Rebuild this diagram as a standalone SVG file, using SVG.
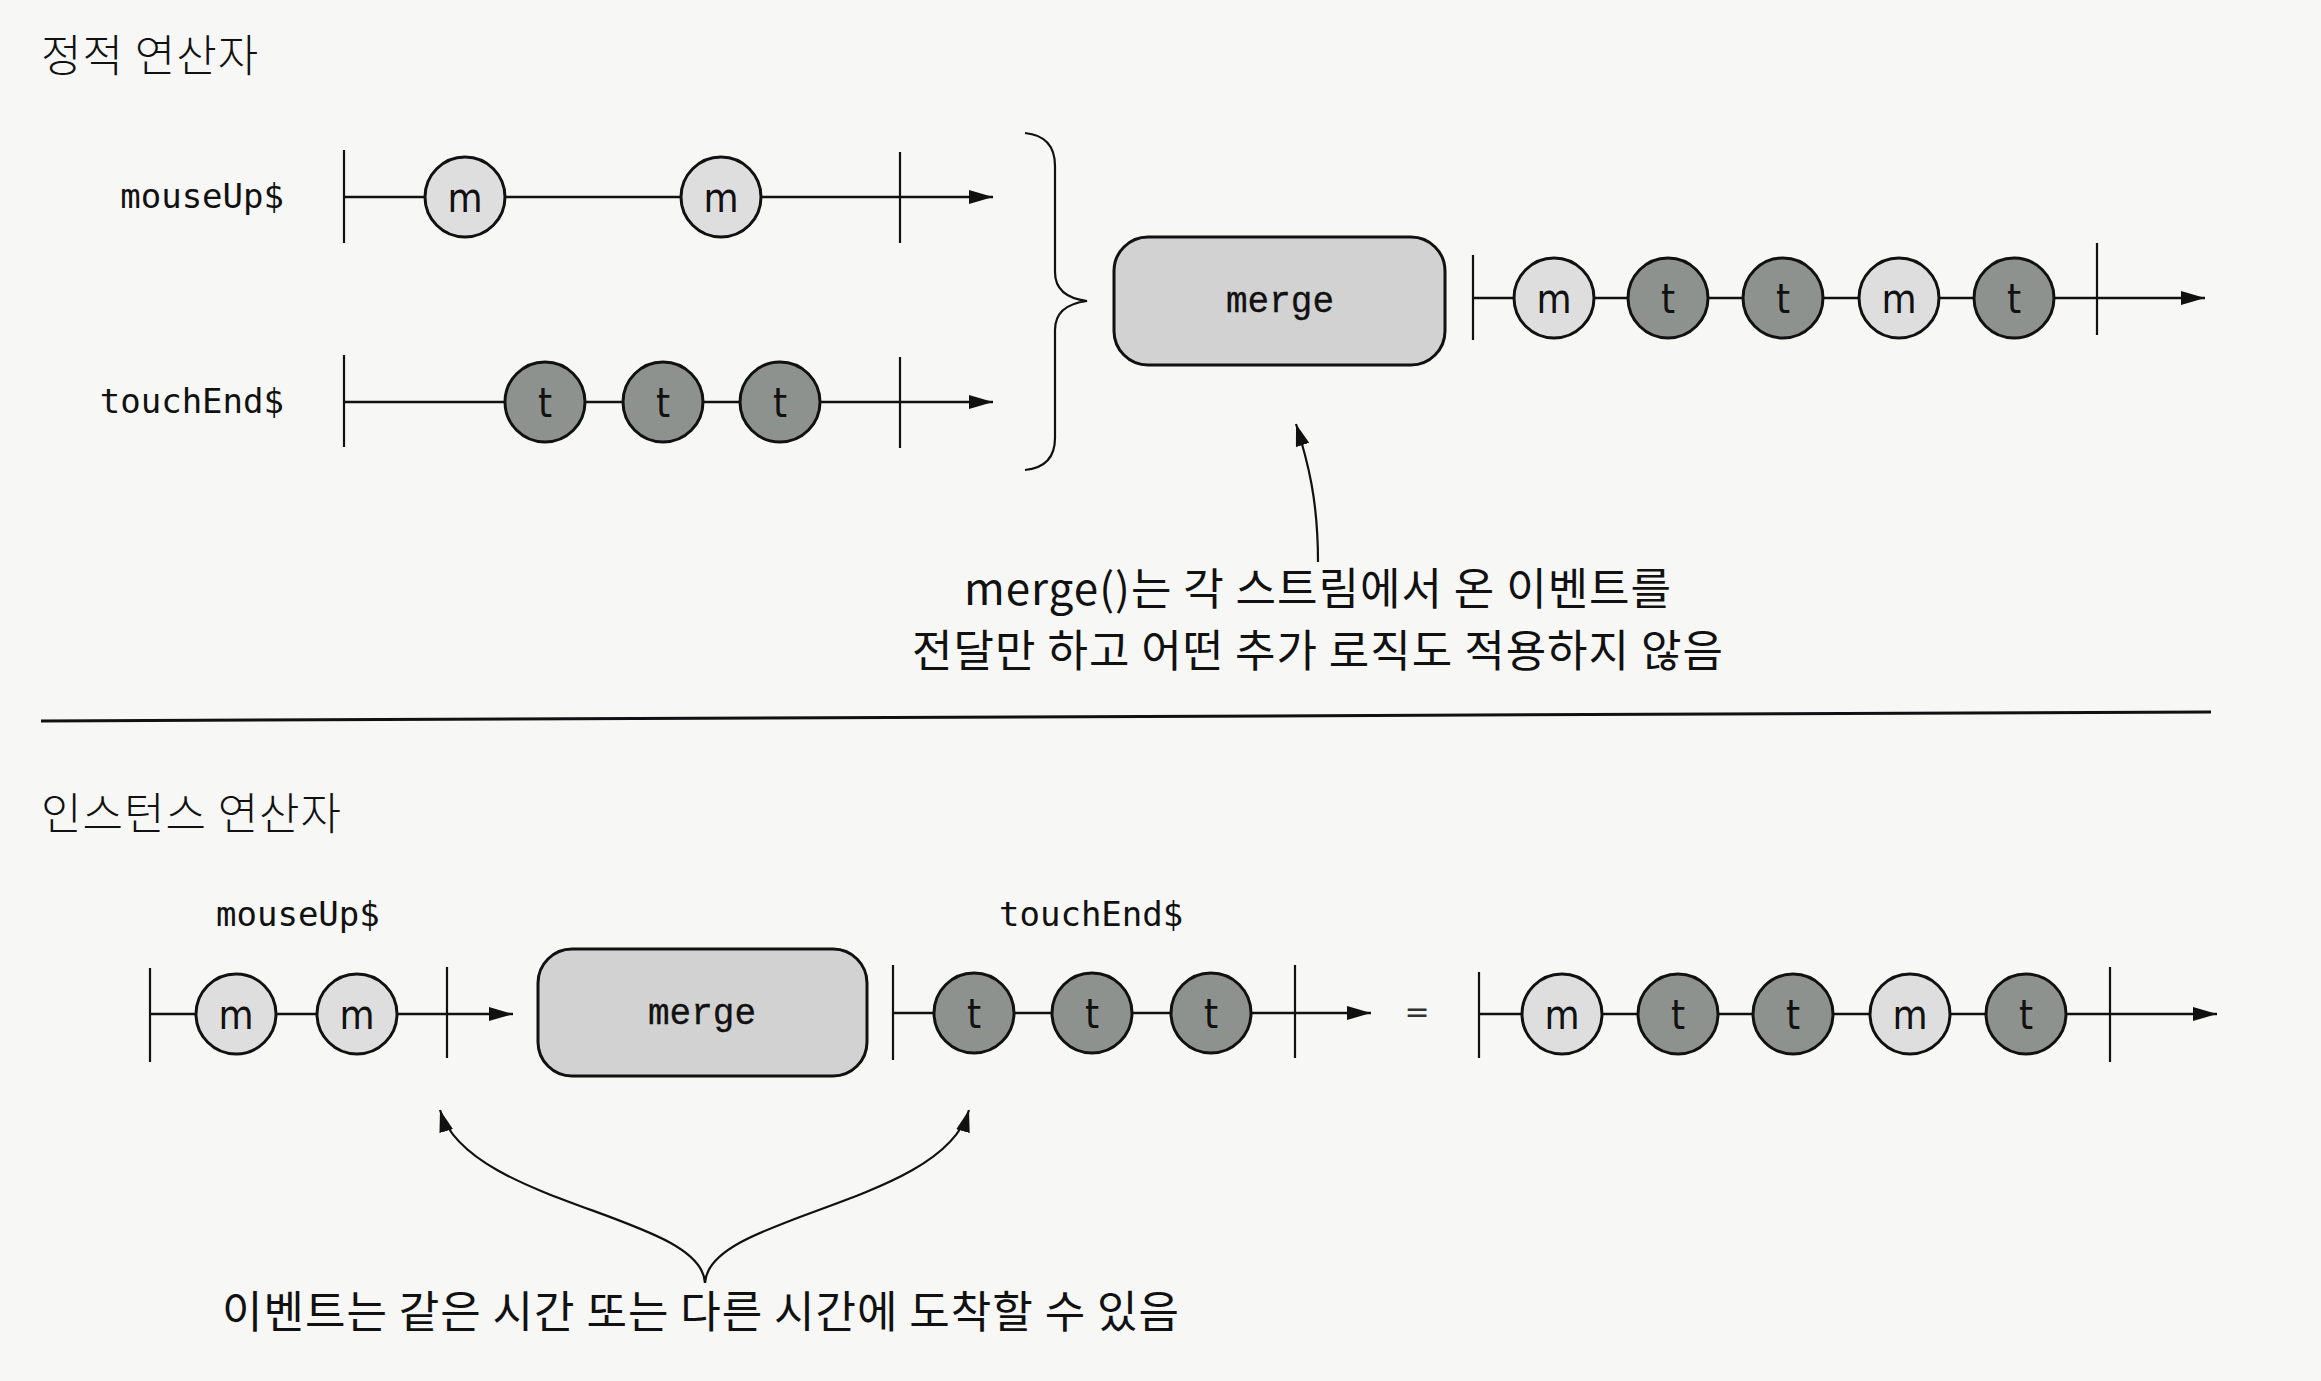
<svg xmlns="http://www.w3.org/2000/svg" width="2321" height="1381" viewBox="0 0 2321 1381">
<defs>
<style>
.ko{font-family:"Noto Sans CJK KR","Noto Sans CJK SC",sans-serif;fill:#111}
.title{font-size:44px;font-weight:300;letter-spacing:1px}
.note{font-size:44px;letter-spacing:1px}
.lbl{font-family:"DejaVu Sans Mono","Liberation Mono",monospace;font-size:34px;fill:#111}
.mono{font-family:"Liberation Mono","Courier New",monospace;font-size:36px;fill:#111;text-anchor:middle;stroke:#111;stroke-width:0.35}
.ev{font-family:"DejaVu Sans Condensed","DejaVu Sans",sans-serif;font-size:40px;fill:#111;text-anchor:middle}
.tl{stroke:#111;stroke-width:2.5;fill:none}
.tick{stroke:#111;stroke-width:2.2}
.cl{fill:#dedede;stroke:#111;stroke-width:3}
.cd{fill:#8d928e;stroke:#111;stroke-width:3}
.box{fill:#d2d2d2;stroke:#111;stroke-width:3}
.call{stroke:#111;stroke-width:2.2;fill:none}
</style>
<marker id="ah" viewBox="0 0 24 14" refX="24" refY="7" markerWidth="24" markerHeight="14" markerUnits="userSpaceOnUse" orient="auto">
<path d="M0,0 L24,7 L0,14 z" fill="#111"/>
</marker>
<marker id="ah2" viewBox="0 0 22 14" refX="22" refY="7" markerWidth="22" markerHeight="14" markerUnits="userSpaceOnUse" orient="auto">
<path d="M0,0 L22,7 L0,14 z" fill="#111"/>
</marker>
</defs>
<rect x="0" y="0" width="2321" height="1381" fill="#f7f7f5"/>

<text class="ko title" x="41" y="72">정적 연산자</text>
<text class="ko title" x="41" y="830">인스턴스 연산자</text>

<g id="connectors">
<!-- top mouseUp$ -->
<line class="tl" x1="344" y1="197" x2="993" y2="197" marker-end="url(#ah)"/>
<line class="tick" x1="344" y1="150" x2="344" y2="243"/>
<line class="tick" x1="900" y1="152" x2="900" y2="243"/>
<!-- top touchEnd$ -->
<line class="tl" x1="344" y1="402" x2="993" y2="402" marker-end="url(#ah)"/>
<line class="tick" x1="344" y1="355" x2="344" y2="447"/>
<line class="tick" x1="900" y1="357" x2="900" y2="448"/>
<!-- brace -->
<path class="call" stroke-width="2.8" d="M1025,133 Q1055,136 1055,166 L1055,272 Q1055,297 1087,301 Q1055,305 1055,330 L1055,438 Q1055,467 1025,470"/>
<!-- top output -->
<line class="tl" x1="1473" y1="298" x2="2205" y2="298" marker-end="url(#ah)"/>
<line class="tick" x1="1473" y1="255" x2="1473" y2="340"/>
<line class="tick" x1="2097" y1="243" x2="2097" y2="335"/>
<!-- callout to merge -->
<path class="call" d="M1318,562 C1318,500 1308,462 1296,424" marker-end="url(#ah2)"/>
<!-- separator -->
<line x1="41" y1="721" x2="2211" y2="712" stroke="#111" stroke-width="3"/>
<!-- bottom mouseUp$ -->
<line class="tl" x1="150" y1="1014" x2="513" y2="1014" marker-end="url(#ah)"/>
<line class="tick" x1="150" y1="968" x2="150" y2="1062"/>
<line class="tick" x1="447" y1="967" x2="447" y2="1058"/>
<!-- bottom touchEnd$ -->
<line class="tl" x1="893" y1="1013" x2="1371" y2="1013" marker-end="url(#ah)"/>
<line class="tick" x1="893" y1="965" x2="893" y2="1060"/>
<line class="tick" x1="1295" y1="965" x2="1295" y2="1058"/>
<!-- bottom result -->
<line class="tl" x1="1479" y1="1014" x2="2217" y2="1014" marker-end="url(#ah)"/>
<line class="tick" x1="1479" y1="972" x2="1479" y2="1058"/>
<line class="tick" x1="2110" y1="967" x2="2110" y2="1062"/>
<!-- bottom callout arrows -->
<path class="call" d="M705,1283 C702,1215 468,1205 440,1110" marker-end="url(#ah2)"/>
<path class="call" d="M705,1283 C708,1215 942,1205 969,1110" marker-end="url(#ah2)"/>
</g>

<g id="label-mouseup-top"><text class="lbl" x="284" y="208" text-anchor="end">mouseUp$</text></g>
<g id="label-touchend-top"><text class="lbl" x="284" y="413" text-anchor="end">touchEnd$</text></g>

<g id="top-m1"><circle class="cl" cx="465" cy="197" r="40"/><text class="ev" x="465" y="212">m</text></g>
<g id="top-m2"><circle class="cl" cx="721" cy="197" r="40"/><text class="ev" x="721" y="212">m</text></g>
<g id="top-t1"><circle class="cd" cx="545" cy="402" r="40"/><text class="ev" x="545" y="417">t</text></g>
<g id="top-t2"><circle class="cd" cx="663" cy="402" r="40"/><text class="ev" x="663" y="417">t</text></g>
<g id="top-t3"><circle class="cd" cx="780" cy="402" r="40"/><text class="ev" x="780" y="417">t</text></g>

<g id="merge-top"><rect class="box" x="1114" y="237" width="331" height="128" rx="34"/><text class="mono" x="1280" y="312">merge</text></g>

<g id="out-1"><circle class="cl" cx="1554" cy="298" r="40"/><text class="ev" x="1554" y="313">m</text></g>
<g id="out-2"><circle class="cd" cx="1668" cy="298" r="40"/><text class="ev" x="1668" y="313">t</text></g>
<g id="out-3"><circle class="cd" cx="1783" cy="298" r="40"/><text class="ev" x="1783" y="313">t</text></g>
<g id="out-4"><circle class="cl" cx="1899" cy="298" r="40"/><text class="ev" x="1899" y="313">m</text></g>
<g id="out-5"><circle class="cd" cx="2014" cy="298" r="40"/><text class="ev" x="2014" y="313">t</text></g>

<g id="note-top">
<text class="ko note" x="1318" y="605" text-anchor="middle">merge()는 각 스트림에서 온 이벤트를</text>
<text class="ko note" x="1318" y="667" text-anchor="middle">전달만 하고 어떤 추가 로직도 적용하지 않음</text>
</g>

<g id="label-mouseup-bottom"><text class="lbl" x="216" y="926">mouseUp$</text></g>
<g id="label-touchend-bottom"><text class="lbl" x="999" y="926">touchEnd$</text></g>

<g id="bot-m1"><circle class="cl" cx="236" cy="1014" r="40"/><text class="ev" x="236" y="1029">m</text></g>
<g id="bot-m2"><circle class="cl" cx="357" cy="1014" r="40"/><text class="ev" x="357" y="1029">m</text></g>

<g id="merge-bottom"><rect class="box" x="538" y="949" width="329" height="127" rx="34"/><text class="mono" x="702" y="1024">merge</text></g>

<g id="bot-t1"><circle class="cd" cx="974" cy="1013" r="40"/><text class="ev" x="974" y="1028">t</text></g>
<g id="bot-t2"><circle class="cd" cx="1092" cy="1013" r="40"/><text class="ev" x="1092" y="1028">t</text></g>
<g id="bot-t3"><circle class="cd" cx="1211" cy="1013" r="40"/><text class="ev" x="1211" y="1028">t</text></g>

<g id="equals"><text x="1417" y="1022" font-family="DejaVu Sans, sans-serif" font-size="30" fill="#333" text-anchor="middle">=</text></g>

<g id="res-1"><circle class="cl" cx="1562" cy="1014" r="40"/><text class="ev" x="1562" y="1029">m</text></g>
<g id="res-2"><circle class="cd" cx="1678" cy="1014" r="40"/><text class="ev" x="1678" y="1029">t</text></g>
<g id="res-3"><circle class="cd" cx="1793" cy="1014" r="40"/><text class="ev" x="1793" y="1029">t</text></g>
<g id="res-4"><circle class="cl" cx="1910" cy="1014" r="40"/><text class="ev" x="1910" y="1029">m</text></g>
<g id="res-5"><circle class="cd" cx="2026" cy="1014" r="40"/><text class="ev" x="2026" y="1029">t</text></g>

<g id="note-bottom"><text class="ko note" x="222" y="1328">이벤트는 같은 시간 또는 다른 시간에 도착할 수 있음</text></g>
</svg>
